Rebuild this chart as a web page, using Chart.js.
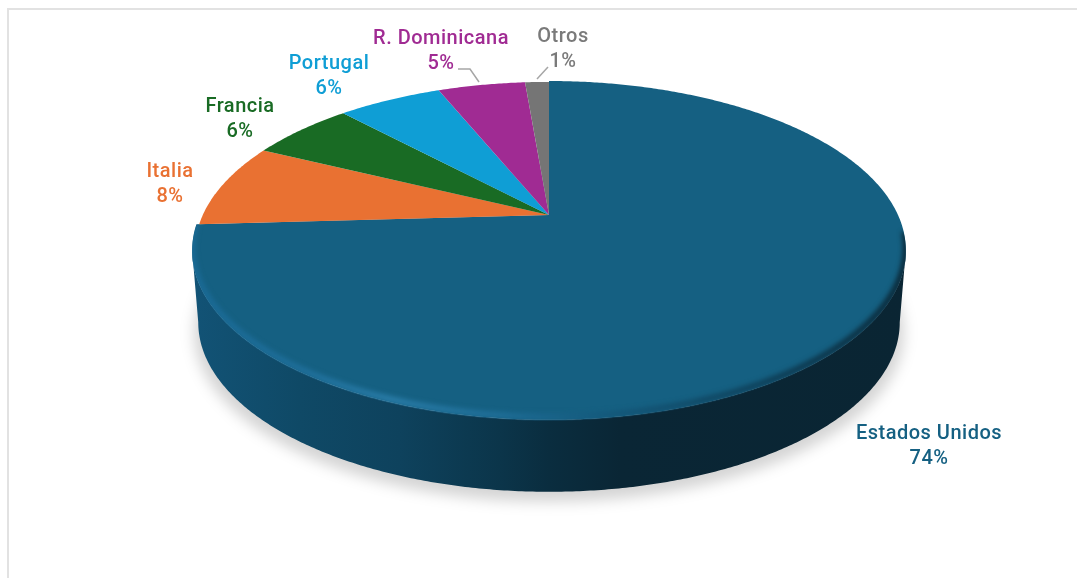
<!DOCTYPE html>
<html>
<head>
<meta charset="utf-8">
<style>
  html, body { margin: 0; background: #fff; overflow: hidden; }
  #frame { position: absolute; left: 7px; top: 8px; width: 1080px; height: 580px; border-left: 2px solid #e2e2e2; border-top: 2px solid #e2e2e2; }
  canvas { position: absolute; left: 0; top: 0; }
</style>
</head>
<body>
<div id="frame"></div>
<canvas id="chart" width="1077" height="578"></canvas>
<script src="https://cdn.jsdelivr.net/npm/chart.js@4"></script>
<script>
const categories = ["Estados Unidos", "Italia", "Francia", "Portugal", "R. Dominicana", "Otros"];
const shares = [74.1, 8.1, 5.8, 5.8, 4.87, 1.33];
const sliceColors = ["#156082", "#E97132", "#196B24", "#0F9ED5", "#A02B93", "#757575"];
const textColors = ["#156082", "#E97132", "#196B24", "#0F9ED5", "#A02B93", "#7A7A7A"];
const labelSpots = [[929, 434], [170, 172], [240, 107], [329, 64], [441, 39], [563, 37]];
const leaders = [null, null, null, null, [[458, 69], [470, 69], [479, 82]], [[548, 67], [537, 79]]];

// pie plane seen in perspective, apex of the slices is not the middle of the ellipse
const topFace = { x: 549, y: 215, a: 349, b: 162, k: -0.209 };
const baseFace = { x: 549, y: 287, a: 343, b: 162, k: -0.209 };

function project(f, t, r = 1) {
  const u = r * Math.cos(t), v = r * Math.sin(t), w = 1 + f.k * v;
  return [f.x + f.a * u / w, f.y + f.b * v / w];
}

function rim(ctx, f, from, to, r = 1, move = true) {
  const n = Math.max(2, Math.ceil(Math.abs(to - from) * 120));
  for (let i = 0; i <= n; i++) {
    const p = project(f, from + (to - from) * i / n, r);
    if (i === 0 && move) ctx.moveTo(p[0], p[1]);
    else ctx.lineTo(p[0], p[1]);
  }
}

function hGrad(ctx, stops) {
  const g = ctx.createLinearGradient(190, 0, 910, 0);
  stops.forEach((s) => g.addColorStop((s[0] - 190) / 720, s[1]));
  return g;
}

const pie3d = {
  id: "pie3d",
  beforeDatasetsDraw(chart) {
    const ctx = chart.ctx;
    const arcs = chart.getDatasetMeta(0).data;
    const sideL = Math.PI - 0.21, sideR = 0.21;

    ctx.save();
    // floor shadow
    ctx.filter = "blur(7px)";
    ctx.fillStyle = "rgba(0,0,0,.17)";
    ctx.beginPath();
    rim(ctx, { ...baseFace, y: baseFace.y + 10, a: baseFace.a + 4 }, 0, Math.PI * 2);
    ctx.fill();
    ctx.filter = "none";

    // side wall
    ctx.fillStyle = hGrad(ctx, [[190, "#125376"], [300, "#0f4966"], [400, "#0e425d"], [500, "#0b354a"], [549, "#0a2d3f"], [620, "#0a2635"], [910, "#0a2533"]]);
    ctx.beginPath();
    rim(ctx, topFace, sideR, sideL);
    rim(ctx, baseFace, sideL, sideR, 1, false);
    ctx.closePath();
    ctx.fill();

    // slices, angles come from the pie controller
    arcs.forEach((arc, i) => {
      ctx.fillStyle = sliceColors[i];
      ctx.beginPath();
      ctx.moveTo(topFace.x, topFace.y);
      rim(ctx, topFace, arc.startAngle, arc.endAngle, i ? 0.992 : 1, false);
      ctx.closePath();
      ctx.fill();
    });

    // bevel on the rim of the big slice, soft towards the wall
    ctx.save();
    ctx.beginPath();
    ctx.moveTo(topFace.x, topFace.y);
    rim(ctx, { ...topFace, y: topFace.y + 1 }, arcs[0].startAngle, arcs[0].endAngle, 1, false);
    ctx.closePath();
    ctx.clip();
    ctx.filter = "blur(2.5px)";
    ctx.lineWidth = 6;
    ctx.strokeStyle = hGrad(ctx, [[190, "#1a6a96"], [300, "#1f6f9b"], [390, "#2a7da9"], [500, "#1f6e98"], [600, "#14597c"], [760, "#0e3f58"], [910, "#0a2533"]]);
    ctx.beginPath();
    rim(ctx, { ...topFace, y: topFace.y - 3 }, 0.12, arcs[0].endAngle);
    ctx.stroke();
    ctx.restore();

    // labels and leader lines
    ctx.font = "500 20px Roboto";
    ctx.textAlign = "center";
    ctx.textBaseline = "middle";
    ctx.letterSpacing = "0.5px";
    categories.forEach((name, i) => {
      ctx.fillStyle = textColors[i];
      ctx.fillText(name, labelSpots[i][0], labelSpots[i][1]);
      ctx.fillText(Math.round(shares[i]) + "%", labelSpots[i][0], labelSpots[i][1] + 25);
      const line = leaders[i];
      if (line) {
        ctx.strokeStyle = "#a6a6a6";
        ctx.lineWidth = 1.5;
        ctx.beginPath();
        line.forEach((p, j) => (j ? ctx.lineTo(p[0], p[1]) : ctx.moveTo(p[0], p[1])));
        ctx.stroke();
      }
    });
    ctx.restore();
    return false;
  },
};

new Chart(document.getElementById("chart"), {
  type: "pie",
  data: { labels: categories, datasets: [{ data: shares, backgroundColor: sliceColors, borderWidth: 0 }] },
  options: {
    responsive: false,
    animation: false,
    events: [],
    plugins: { legend: { display: false }, tooltip: { enabled: false } },
  },
  plugins: [pie3d],
});
</script>
</body>
</html>
